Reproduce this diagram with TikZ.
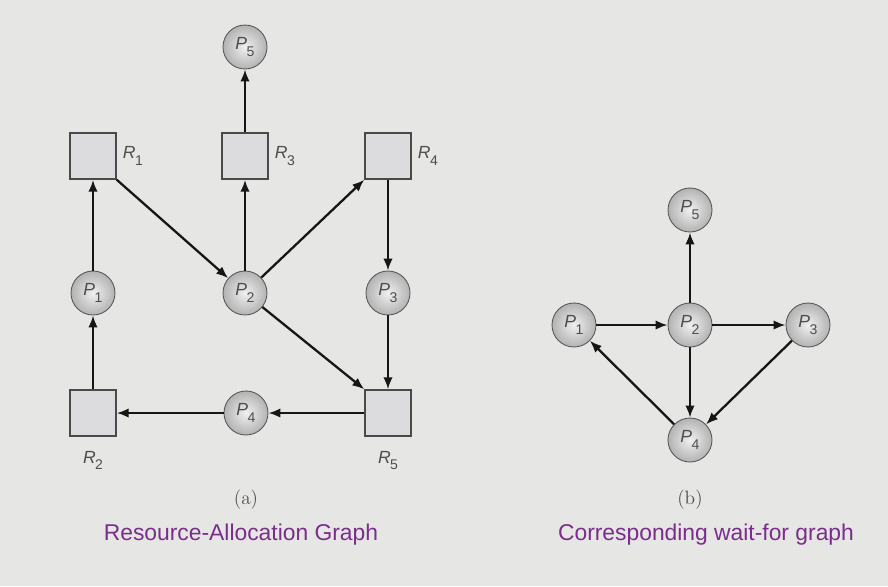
\documentclass[tikz,border=0pt]{standalone}
\usepackage{fontspec}
\setsansfont{Liberation Sans}
\usepackage{tikz}
\usetikzlibrary{arrows.meta,positioning}
\usepackage{xcolor}
\definecolor{bg}{HTML}{E6E6E4}
\definecolor{ink}{HTML}{161616}
\definecolor{boxfill}{HTML}{DCDCDE}
\definecolor{boxline}{HTML}{4A4A4A}
\definecolor{lbl}{HTML}{4E4E4E}
\definecolor{caption}{HTML}{7B2D8C}
\newcommand{\pname}[1]{\textit{P}\kern-0.3pt\raisebox{-0.75ex}{\footnotesize #1}}
\newcommand{\rname}[1]{\textit{R}\kern-0.3pt\raisebox{-0.75ex}{\footnotesize #1}}
\tikzset{
  >={Latex[length=2.4mm,width=1.9mm]},
  every node/.style={font=\sffamily\normalsize,text=lbl},
  procnode/.style={circle,draw=gray!70!black,line width=0.5pt,inner color=gray!12,outer color=gray!60,minimum size=8.8mm,inner sep=0pt},
  resnode/.style={draw=boxline,fill=boxfill,line width=0.8pt,minimum size=9.2mm,inner sep=0pt},
  arr/.style={->,draw=ink,line width=1.3pt},
  sublabel/.style={font=\rmfamily\fontsize{11}{13}\selectfont,text=lbl},
  captext/.style={font=\sffamily\fontsize{13}{15}\selectfont,text=caption},
}

\begin{document}
\begin{tikzpicture}[x=0.2mm,y=-0.2mm]

\fill[bg] (0,0) rectangle (888,586);

\node[procnode] (a5) at (245,47) {\pname{5}};
\node[resnode,label={right:\rname{1}}] (r1) at (93,156) {};
\node[resnode,label={right:\rname{3}}] (r3) at (245,156) {};
\node[resnode,label={right:\rname{4}}] (r4) at (388,156) {};
\node[procnode] (a1) at (93,293) {\pname{1}};
\node[procnode] (a2) at (245,293) {\pname{2}};
\node[procnode] (a3) at (388,293) {\pname{3}};
\node[resnode,label={[label distance=1.6mm]below:\rname{2}}] (r2) at (93,413) {};
\node[procnode] (a4) at (246,413) {\pname{4}};
\node[resnode,label={[label distance=1.6mm]below:\rname{5}}] (r5) at (388,413) {};

\draw[arr] (a1) -- (r1);
\draw[arr] (r1.south east) -- (a2);
\draw[arr] (a2) -- (r3);
\draw[arr] (r3) -- (a5);
\draw[arr] (a2) -- (r4.south west);
\draw[arr] (r4) -- (a3);
\draw[arr] (a3) -- (r5);
\draw[arr] (a2) -- (r5.north west);
\draw[arr] (r5) -- (a4);
\draw[arr] (a4) -- (r2);
\draw[arr] (r2) -- (a1);

\node[sublabel] (suba) at (246,500) {(a)};
\node[captext] (capa) at (241,535) {Resource-Allocation Graph};

\node[procnode] (b5) at (690,210) {\pname{5}};
\node[procnode] (b1) at (574,325) {\pname{1}};
\node[procnode] (b2) at (690,325) {\pname{2}};
\node[procnode] (b3) at (808,325) {\pname{3}};
\node[procnode] (b4) at (690,440) {\pname{4}};

\draw[arr] (b1) -- (b2);
\draw[arr] (b2) -- (b3);
\draw[arr] (b2) -- (b5);
\draw[arr] (b2) -- (b4);
\draw[arr] (b3) -- (b4);
\draw[arr] (b4) -- (b1);

\node[sublabel] (subb) at (690,500) {(b)};
\node[captext] (capb) at (706,535) {Corresponding wait-for graph};

\end{tikzpicture}
\end{document}
